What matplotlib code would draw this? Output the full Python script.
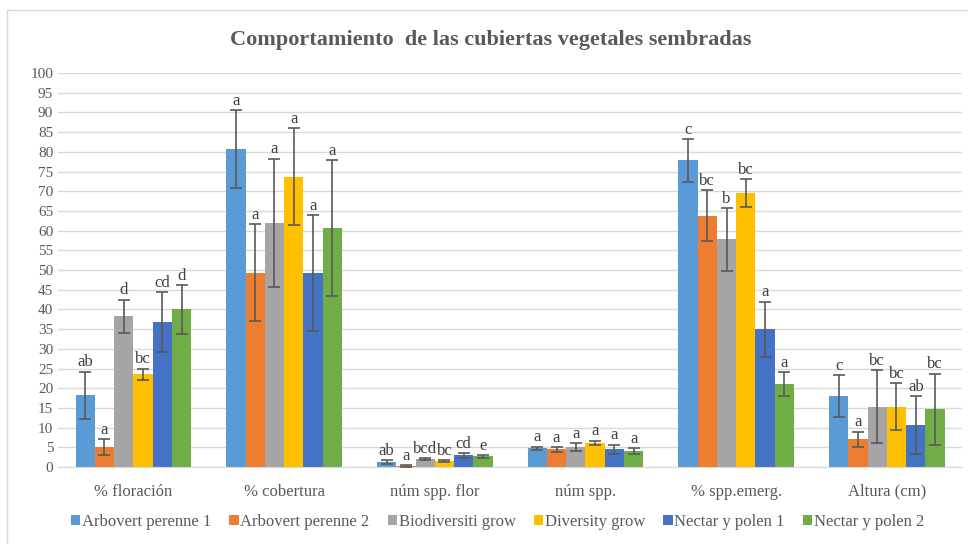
import numpy as np
import matplotlib.pyplot as plt
from matplotlib.lines import Line2D

plt.rcParams['font.family'] = ['Liberation Serif', 'DejaVu Serif']

categories = ['% floración', '% cobertura', 'núm spp. flor', 'núm spp.', '% spp.emerg.', 'Altura (cm)']
series = ['Arbovert perenne 1', 'Arbovert perenne 2', 'Biodiversiti grow',
          'Diversity grow', 'Nectar y polen 1', 'Nectar y polen 2']
colors = ['#5B9BD5', '#ED7D31', '#A5A5A5', '#FFC000', '#4472C4', '#70AD47']

# medias por serie (una fila por serie, una columna por categoría)
values = [
    [18.2, 80.7, 1.3, 4.8, 77.8, 18.0],
    [5.0, 49.3, 0.3, 4.5, 63.8, 7.0],
    [38.3, 62.0, 2.0, 5.0, 57.8, 15.3],
    [23.5, 73.7, 1.5, 6.2, 69.5, 15.3],
    [36.8, 49.3, 3.0, 4.5, 35.0, 10.6],
    [40.0, 60.7, 2.7, 4.0, 21.0, 14.7],
]
errors = [
    [6.0, 9.8, 0.5, 0.4, 5.5, 5.3],
    [2.0, 12.3, 0.2, 0.6, 6.5, 2.0],
    [4.2, 16.3, 0.2, 1.0, 8.0, 9.3],
    [1.5, 12.3, 0.3, 0.5, 3.5, 6.0],
    [7.5, 14.7, 0.6, 1.2, 7.0, 7.3],
    [6.2, 17.3, 0.4, 0.8, 3.0, 9.0],
]
letters = [
    ['ab', 'a', 'ab', 'a', 'c', 'c'],
    ['a', 'a', 'a', 'a', 'bc', 'a'],
    ['d', 'a', 'bcd', 'a', 'b', 'bc'],
    ['bc', 'a', 'bc', 'a', 'bc', 'bc'],
    ['cd', 'a', 'cd', 'a', 'a', 'ab'],
    ['d', 'a', 'e', 'a', 'a', 'bc'],
]

fig = plt.figure(figsize=(9.68, 5.44), dpi=100)
ax = fig.add_axes([0.060, 0.1415, 0.934, 0.7243])

x = np.arange(len(categories))
w = 0.128
for i, name in enumerate(series):
    pos = x + (i - 2.5) * w
    ax.bar(pos, values[i], w, color=colors[i], label=name, zorder=2)
    ax.errorbar(pos, values[i], yerr=errors[i], fmt='none', ecolor='#595959',
                elinewidth=1.2, capsize=4, capthick=1.2, zorder=3)
    for j in range(len(categories)):
        ax.text(pos[j], values[i][j] + errors[i][j] + 0.3, letters[i][j],
                ha='center', va='bottom', fontsize=12, color='#404040', zorder=4)

ax.set_xlim(-0.5, len(categories) - 0.5)
ax.set_ylim(0, 100)
ax.set_yticks(range(0, 101, 5))
ax.set_xticks(x)
ax.set_xticklabels(categories)
ax.tick_params(axis='both', length=0, labelsize=11, colors='#595959')
ax.tick_params(axis='x', pad=12, labelsize=12)
ax.grid(axis='y', color='#D9D9D9', linewidth=1, zorder=0)
for s in ['top', 'right', 'left']:
    ax.spines[s].set_visible(False)
ax.spines['bottom'].set_color('#D9D9D9')

fig.text(0.507, 0.927, 'Comportamiento  de las cubiertas vegetales sembradas',
         ha='center', va='center', fontsize=16, fontweight='bold', color='#595959')

leg = fig.legend(loc='center', bbox_to_anchor=(0.514, 0.04), ncol=6, frameon=False,
                 fontsize=12, handlelength=0.55, handleheight=0.55, handletextpad=0.1,
                 columnspacing=1.1)
for t in leg.get_texts():
    t.set_color('#595959')

# borde del área del gráfico
fig.add_artist(Line2D([7 / 968, 7 / 968], [0, 1 - 10 / 544], transform=fig.transFigure,
                      color='#D9D9D9', linewidth=1))
fig.add_artist(Line2D([7 / 968, 1], [1 - 10 / 544, 1 - 10 / 544], transform=fig.transFigure,
                      color='#D9D9D9', linewidth=1))

fig.savefig('out.png', dpi=100)
